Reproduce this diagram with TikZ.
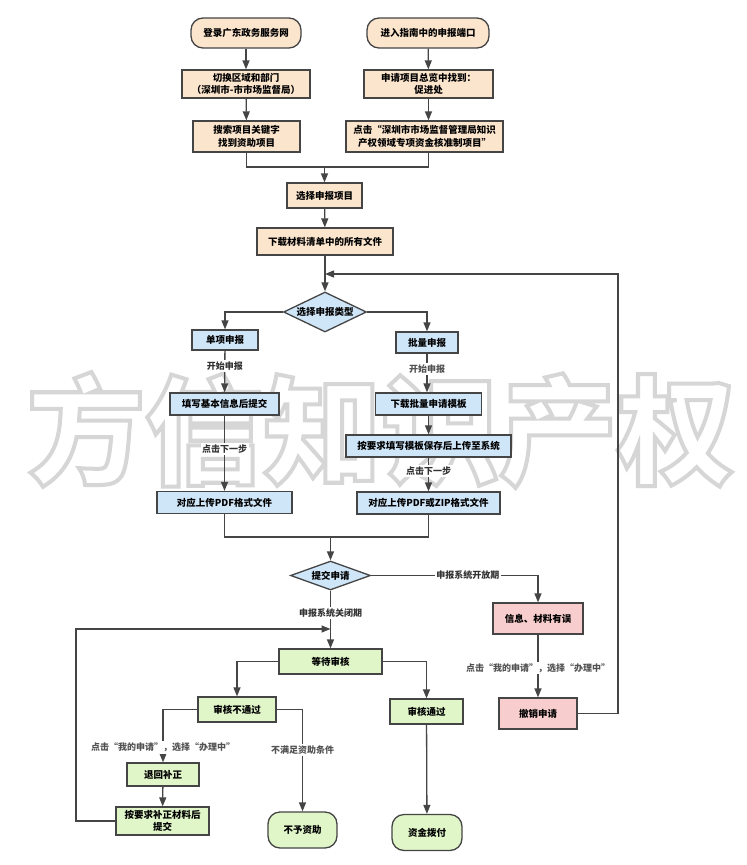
\documentclass[tikz,border=0pt]{standalone}
\usepackage{fontspec}
\setmainfont{Noto Sans CJK SC}
\usetikzlibrary{arrows.meta,shapes.geometric}
\definecolor{lc}{HTML}{454545}
\definecolor{peachf}{HTML}{FCE5CD}
\definecolor{bluef}{HTML}{CFE5F8}
\definecolor{greenf}{HTML}{E0F6C9}
\definecolor{pinkf}{HTML}{F8CDCD}
\definecolor{wmgray}{HTML}{D6D6D6}
\definecolor{labc}{HTML}{333333}
\newcommand{\outlinetext}[1]{\special{pdf:literal direct 1 Tr 4 w}#1\special{pdf:literal direct 0 Tr}}
\tikzset{
  box/.style={draw=lc, line width=1.3pt, align=center, inner sep=0pt,
    font=\bfseries\fontsize{9.5}{12.5}\selectfont, text=black},
  pbox/.style={box, fill=peachf},
  bbox/.style={box, fill=bluef},
  gbox/.style={box, fill=greenf},
  kbox/.style={box, fill=pinkf},
  term/.style={rounded corners=12pt},
  dia/.style={box, fill=bluef, shape=diamond},
  conn/.style={draw=lc, line width=1.3pt},
  arr/.style={conn, -{Triangle[length=9pt,width=7pt]}},
  lab/.style={fill=white, inner sep=1.5pt, text=labc,
    font=\bfseries\fontsize{9}{11}\selectfont},
  wm/.style={font=\bfseries\fontsize{118}{118}\selectfont, inner sep=0pt, text=wmgray}
}
\begin{document}
\begin{tikzpicture}[x=1pt,y=-1pt]
\useasboundingbox[fill=white] (0,0) rectangle (747,865);
% watermark
\node[wm] (wmk) at (381,430) {\outlinetext{方信知识产权}};

% top section
\node[pbox, term, minimum width=110pt, minimum height=30pt] (n1) at (246,33) {登录广东政务服务网};
\node[pbox, term, minimum width=122pt, minimum height=30pt] (n2) at (428,33) {进入指南中的申报端口};
\node[pbox, minimum width=128pt, minimum height=28pt] (n3) at (246,84) {切换区域和部门\\（深圳市-市市场监督局）};
\node[pbox, minimum width=129pt, minimum height=28pt] (n4) at (428.5,84) {申请项目总览中找到：\\促进处};
\node[pbox, minimum width=107pt, minimum height=31pt] (n5) at (246.5,136.5) {搜索项目关键字\\找到资助项目};
\node[pbox, minimum width=157pt, minimum height=31pt] (n6) at (424.5,136.5) {点击“深圳市市场监督管理局知识\\产权领域专项资金核准制项目”};
\node[pbox, minimum width=75pt, minimum height=25pt] (n7) at (324.5,195.5) {选择申报项目};
\node[pbox, minimum width=136pt, minimum height=27pt] (n8) at (325,241.5) {下载材料清单中的所有文件};

\node[dia, aspect=2.1, minimum width=83pt, minimum height=40pt] (d1) at (325,312) {选择申报类型};
\node[bbox, minimum width=66pt, minimum height=20pt] (b1) at (225,340) {单项申报};
\node[bbox, minimum width=62pt, minimum height=21pt] (b2) at (427,342.5) {批量申报};
\node[bbox, minimum width=109pt, minimum height=22pt] (b3) at (224.5,404) {填写基本信息后提交};
\node[bbox, minimum width=106pt, minimum height=22pt] (b4) at (428.5,404) {下载批量申请模板};
\node[bbox, minimum width=165pt, minimum height=22pt] (b5) at (428.5,446) {按要求填写模板保存后上传至系统};
\node[bbox, minimum width=135pt, minimum height=22pt] (b6) at (224.5,502.5) {对应上传PDF格式文件};
\node[bbox, minimum width=143pt, minimum height=22pt] (b7) at (428.5,503) {对应上传PDF或ZIP格式文件};

\node[dia, aspect=2.76, minimum width=80pt, minimum height=29pt] (d2) at (330.5,575.5) {提交申请};
\node[kbox, minimum width=90pt, minimum height=31pt] (p1) at (538,618.5) {信息、材料有误};
\node[kbox, minimum width=78pt, minimum height=31pt] (p2) at (538,713.5) {撤销申请};

\node[gbox, minimum width=103pt, minimum height=25pt] (g1) at (330.5,661.5) {等待审核};
\node[gbox, minimum width=78pt, minimum height=25pt] (g2) at (237,709.5) {审核不通过};
\node[gbox, minimum width=73pt, minimum height=25pt] (g3) at (426.5,711.5) {审核通过};
\node[gbox, minimum width=72pt, minimum height=23pt] (g4) at (163,774.5) {退回补正};
\node[gbox, minimum width=93pt, minimum height=28pt] (g5) at (162.5,821) {按要求补正材料后\\提交};
\node[gbox, term, minimum width=69pt, minimum height=36pt] (g6) at (302.5,830) {不予资助};
\node[gbox, term, minimum width=70pt, minimum height=36pt] (g7) at (427,832.5) {资金拨付};

% helper coordinates
\coordinate (m1) at (324.5,167);
\coordinate (m2) at (330.5,537);
\coordinate (lp) at (325,274);
\coordinate (rt) at (618,274);
\coordinate (lp2) at (330.5,629);
\coordinate (lt) at (76,629);

% connectors
\draw[arr] (n1) -- (n3);
\draw[arr] (n3) -- (n5);
\draw[arr] (n2) -- (n4);
\draw[arr] (n4) -- (n4 |- n6.north);
\draw[conn] (n5.south) |- (m1);
\draw[conn] (n4 |- n6.south) |- (m1);
\draw[arr] (m1) -- (n7);
\draw[arr] (n7) -- (n8);
\draw[arr] (n8) -- (d1);
\draw[arr] (d1.west) -| (b1.north);
\draw[arr] (d1.east) -| (b2.north);
\draw[arr] (b1) -- node[lab, pos=0.37] {开始申报} (b3);
\draw[arr] (b2) -- node[lab, pos=0.4, text=labc!85] {开始申报} (b2 |- b4.north);
\draw[arr] (b3) -- node[lab, pos=0.44] {点击下一步} (b6);
\draw[arr] (b4) -- (b5);
\draw[arr] (b5) -- node[lab, pos=0.4] {点击下一步} (b7);
\draw[conn] (b6.south) |- (m2);
\draw[conn] (b7.south) |- (m2);
\draw[arr] (m2) -- (d2.north);
\draw[arr] (d2.east) -| node[lab, pos=0.29] {申报系统开放期} (p1.north);
\draw[arr] (d2.south) -- node[lab, pos=0.39] {申报系统关闭期} (g1.north);
\draw[arr] (p1) -- node[lab, pos=0.53, text=labc!85] {点击“我的申请”，选择“办理中”} (p2);
\draw[arr] (p2.east) -| (rt) -- (lp);
\draw[arr] (g1.west) -| (g2.north);
\draw[arr] (g1.east) -| (g3.north);
\draw[arr] (g2.west) -| node[lab, pos=0.86, text=labc!85] {点击“我的申请”，选择“办理中”} (g4.north);
\draw[arr] (g2.east) -| node[lab, pos=0.70, text=labc!85] {不满足资助条件} (g6.north);
\draw[arr] (g4) -- (g5);
\draw[arr] (g5.west) -| (lt) -- (lp2);
\draw[arr] (g3) -- (g7);
\end{tikzpicture}
\end{document}
